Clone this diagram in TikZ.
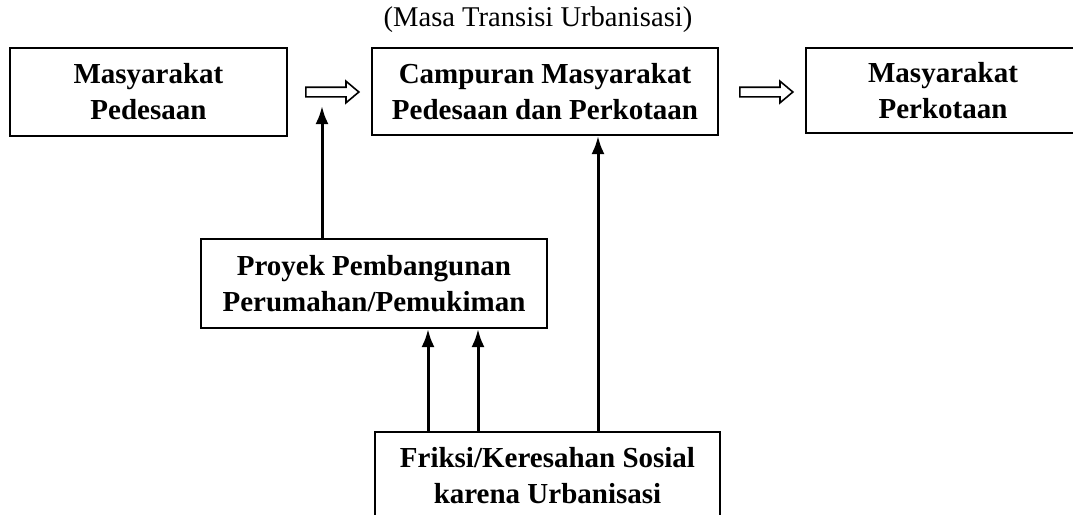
\documentclass[tikz,border=0pt]{standalone}
\usepackage{fontspec}
\setmainfont{Liberation Serif}
\usetikzlibrary{arrows.meta}
\usetikzlibrary{shapes.arrows}

\tikzset{
  box/.style={draw,line width=1pt,align=center,inner sep=0pt,
    font=\bfseries\fontsize{14.5}{18}\selectfont},
  hollow/.style={single arrow,draw,line width=0.8pt,inner sep=2pt,
    minimum height=26.5pt,single arrow head extend=3pt,
    single arrow tip angle=80},
  conn/.style={line width=1.5pt,-{Latex[length=9pt,width=6.5pt]}}
}

\begin{document}
\begin{tikzpicture}[x=0.5pt,y=-0.5pt]
  \clip (0,0) rectangle (1073,515);
  \node (title) at (538,20) {\fontsize{14.3}{17}\selectfont(Masa Transisi Urbanisasi)};
  \node[box,minimum width=138.5pt,minimum height=44pt] (desa)     at (148.5,92) {Masyarakat\\Pedesaan};
  \node[box,minimum width=173pt,minimum height=43.5pt] (campuran) at (545,91.5) {Campuran Masyarakat\\Pedesaan dan Perkotaan};
  \node[box,minimum width=137pt,minimum height=42.5pt] (kota)     at (943,90.5) {Masyarakat\\Perkotaan};
  \node[box,minimum width=173pt,minimum height=44.5pt] (proyek)   at (374,283.5) {Proyek Pembangunan\\Perumahan/Pemukiman};
  \node[box,minimum width=172.5pt,minimum height=44pt] (friksi)   at (547.5,476) {Friksi/Keresahan Sosial\\karena Urbanisasi};
  % hollow arrows between the stages
  \node[hollow] (trans1) at (329.5,92) {};
  \node[hollow] (trans2) at (763.5,92) {};
  \coordinate (tip1) at (322,106);
  \draw[conn] (tip1 |- proyek.north) -- (tip1);
  \draw[conn] ([xshift=-59.75pt]friksi.north) -- ([xshift=-59.75pt]friksi.north |- proyek.south);
  \draw[conn] ([xshift=-34.75pt]friksi.north) -- ([xshift=-34.75pt]friksi.north |- proyek.south);
  \draw[conn] ([xshift=25.25pt]friksi.north) -- ([xshift=25.25pt]friksi.north |- campuran.south);
\end{tikzpicture}
\end{document}
